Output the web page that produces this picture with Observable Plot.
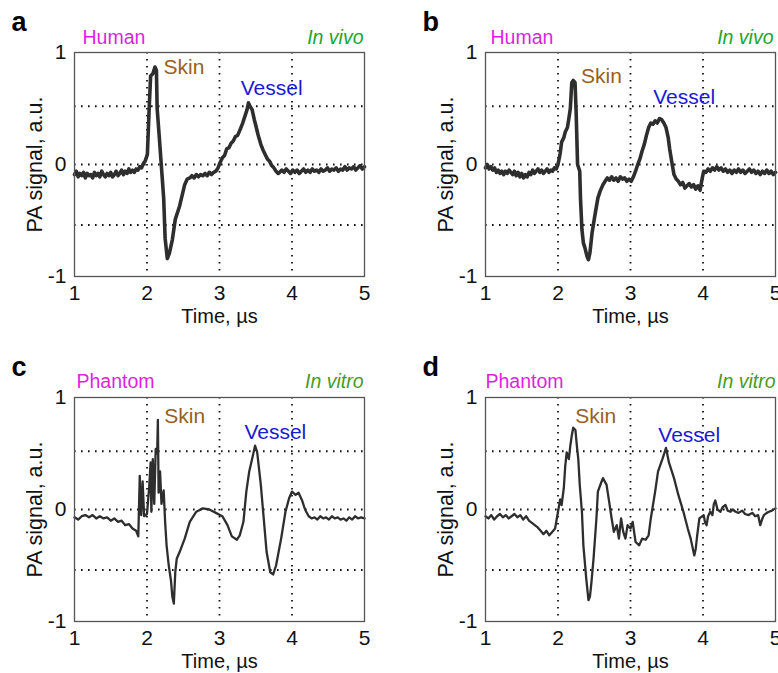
<!DOCTYPE html>
<html>
<head>
<meta charset="utf-8">
<script src="https://cdn.jsdelivr.net/npm/d3@7"></script>
<script src="https://cdn.jsdelivr.net/npm/@observablehq/plot@0.6"></script>
<style>
  html, body { margin: 0; padding: 0; background: white; }
  #wrap { position: relative; width: 778px; height: 673px; overflow: hidden; background: white; }
  .panel { position: absolute; }
</style>
</head>
<body>
<div id="wrap"></div>
<script>
// ---- data ----
const xTicks = [1, 2, 3, 4, 5];
const yTicks = [-1, 0, 1];
const gridX = [2, 3, 4];
const gridY = [0.52, 0, -0.54];

const panelLetters = ["a", "b", "c", "d"];
const subjects = ["Human", "Human", "Phantom", "Phantom"];
const conditions = ["In vivo", "In vivo", "In vitro", "In vitro"];
const featureNames = ["Skin", "Vessel"];

// annotation positions (time, signal) for Skin / Vessel
const skinPos = [[2.51, 0.87], [2.60, 0.79], [2.52, 0.83], [2.52, 0.83]];
const vesselPos = [[3.72, 0.68], [3.74, 0.60], [3.77, 0.69], [3.81, 0.66]];

// Panel a: Human, in vivo
const timeA = [1.000,1.025,1.050,1.075,1.100,1.125,1.150,1.175,1.200,1.225,1.250,1.275,1.300,1.325,1.350,1.375,1.400,1.425,1.450,1.475,1.500,1.525,1.550,1.575,1.600,1.625,1.650,1.675,1.700,1.725,1.750,1.775,1.800,1.825,1.850,1.875,1.900,1.925,1.950,1.975,
  2.005,2.03,2.05,2.08,2.11,2.13,2.14,2.17,2.20,2.23,2.25,2.28,2.31,2.35,2.39,2.45,2.52,
  2.555,2.59,2.62,2.65,2.68,2.71,2.74,2.77,2.80,2.83,2.86,2.89,2.92,2.95,2.98,3.01,3.04,3.07,3.10,3.13,3.16,3.19,3.22,3.25,3.29,3.32,3.35,3.38,3.40,3.42,3.45,3.48,3.50,3.53,3.57,3.60,3.63,3.66,3.69,3.72,3.75,3.78,3.81,3.83,3.86,3.89,3.92,3.95,3.98,4.01,4.04,4.07,4.10,4.13,4.16,4.19,4.22,4.25,4.28,4.31,4.34,4.37,4.40,4.43,4.46,4.49,4.52,4.55,4.58,4.61,4.64,4.67,4.70,4.73,4.76,4.79,4.82,4.85,4.88,4.91,4.94,4.97,5.00];
const signalA = [-0.09,-0.06,-0.11,-0.08,-0.10,-0.07,-0.12,-0.08,-0.10,-0.09,-0.12,-0.07,-0.10,-0.08,-0.11,-0.06,-0.09,-0.11,-0.08,-0.10,-0.07,-0.11,-0.09,-0.06,-0.10,-0.08,-0.05,-0.09,-0.06,-0.08,-0.04,-0.07,-0.05,-0.07,-0.04,-0.05,-0.02,-0.03,0.01,0.03,
  0.09,0.50,0.79,0.81,0.87,0.84,0.50,0.24,-0.03,-0.30,-0.66,-0.84,-0.79,-0.67,-0.49,-0.37,-0.18,
  -0.13,-0.12,-0.10,-0.12,-0.09,-0.11,-0.09,-0.10,-0.08,-0.10,-0.07,-0.09,-0.07,-0.06,-0.03,0.02,0.06,0.08,0.14,0.15,0.19,0.21,0.25,0.26,0.32,0.37,0.43,0.49,0.55,0.52,0.49,0.40,0.35,0.27,0.18,0.13,0.09,0.05,0.03,-0.01,-0.03,-0.06,-0.08,-0.07,-0.05,-0.07,-0.04,-0.06,-0.08,-0.05,-0.07,-0.05,-0.08,-0.06,-0.04,-0.07,-0.05,-0.07,-0.04,-0.06,-0.05,-0.07,-0.04,-0.06,-0.05,-0.03,-0.06,-0.04,-0.05,-0.03,-0.06,-0.04,-0.05,-0.02,-0.05,-0.03,-0.04,-0.02,-0.05,-0.03,-0.01,-0.04,-0.02];

// Panel b: Human, in vivo
const timeB = [1.000,1.025,1.050,1.075,1.100,1.125,1.150,1.175,1.200,1.225,1.250,1.275,1.300,1.325,1.350,1.375,1.400,1.425,1.450,1.475,1.500,1.525,1.550,1.575,1.600,1.625,1.650,1.675,1.700,1.725,1.750,1.775,1.800,1.825,1.850,1.875,1.900,1.925,1.950,1.975,
  2.00,2.03,2.05,2.08,2.10,2.13,2.15,2.17,2.19,2.21,2.235,2.25,2.27,2.30,2.31,2.33,2.35,2.37,2.40,2.42,2.44,2.47,2.51,2.55,
  2.58,2.62,2.65,2.68,2.71,2.74,2.77,2.80,2.83,2.86,2.89,2.92,2.95,2.98,3.01,3.04,3.07,3.10,3.13,3.16,3.19,3.22,3.25,3.28,3.31,3.34,3.37,3.40,3.43,3.46,3.49,3.52,3.54,3.57,3.60,3.63,3.66,3.69,3.72,3.75,3.78,3.81,3.84,3.87,3.90,3.93,3.96,3.99,4.01,4.04,4.07,4.10,4.13,4.16,4.19,4.22,4.25,4.28,4.31,4.34,4.37,4.40,4.43,4.46,4.49,4.52,4.55,4.58,4.61,4.64,4.67,4.70,4.73,4.76,4.79,4.82,4.85,4.88,4.91,4.94,4.97,5.00];
const signalB = [-0.03,0.00,-0.04,-0.02,-0.05,-0.03,-0.07,-0.05,-0.08,-0.06,-0.09,-0.06,-0.08,-0.05,-0.07,-0.09,-0.06,-0.10,-0.07,-0.11,-0.08,-0.12,-0.09,-0.11,-0.07,-0.09,-0.05,-0.08,-0.06,-0.04,-0.07,-0.05,-0.08,-0.06,-0.04,-0.07,-0.05,-0.06,-0.03,-0.04,
  0.00,0.10,0.20,0.24,0.29,0.33,0.41,0.50,0.73,0.75,0.73,0.47,0.00,-0.06,-0.30,-0.58,-0.70,-0.74,-0.82,-0.85,-0.79,-0.61,-0.45,-0.30,
  -0.24,-0.18,-0.15,-0.12,-0.14,-0.11,-0.14,-0.12,-0.15,-0.11,-0.13,-0.12,-0.15,-0.13,-0.15,-0.11,-0.06,0.00,0.05,0.12,0.18,0.26,0.33,0.37,0.36,0.39,0.37,0.41,0.40,0.37,0.33,0.24,0.14,0.02,-0.09,-0.13,-0.15,-0.18,-0.16,-0.21,-0.19,-0.17,-0.20,-0.18,-0.22,-0.19,-0.23,-0.12,-0.06,-0.07,-0.04,-0.06,-0.03,-0.05,-0.02,-0.05,-0.03,-0.06,-0.04,-0.07,-0.05,-0.08,-0.05,-0.07,-0.04,-0.07,-0.05,-0.08,-0.06,-0.04,-0.07,-0.05,-0.08,-0.06,-0.09,-0.06,-0.08,-0.05,-0.08,-0.06,-0.09,-0.07];

// Panel c: Phantom, in vitro
const timeC = [1.00,1.05,1.10,1.15,1.20,1.25,1.30,1.35,1.40,1.45,1.50,1.55,1.60,1.65,1.70,1.75,1.80,1.85,1.88,1.90,1.92,1.94,1.96,2.00,2.03,2.05,2.06,2.08,2.10,2.12,2.14,2.15,2.16,2.18,2.20,2.23,2.25,2.27,2.30,2.33,2.35,2.37,2.39,2.41,2.45,2.52,2.59,2.68,2.77,2.86,2.95,3.04,3.11,3.17,3.24,3.28,3.33,3.37,3.41,3.46,3.49,3.52,3.57,3.61,3.65,3.70,3.74,3.78,3.85,3.91,3.96,4.00,4.05,4.09,4.14,4.18,4.23,4.27,4.31,4.35,4.39,4.43,4.47,4.51,4.55,4.59,4.63,4.67,4.71,4.75,4.79,4.83,4.87,4.91,4.95,5.00];
const signalC = [-0.07,-0.09,-0.06,-0.05,-0.07,-0.05,-0.08,-0.06,-0.08,-0.07,-0.10,-0.08,-0.11,-0.10,-0.14,-0.13,-0.17,-0.19,-0.24,0.30,-0.05,0.25,-0.06,-0.04,0.20,0.42,-0.02,0.45,0.05,0.54,0.50,0.80,0.15,0.34,0.05,0.17,-0.11,-0.32,-0.50,-0.63,-0.78,-0.84,-0.56,-0.44,-0.38,-0.26,-0.11,-0.02,0.01,0.00,-0.03,-0.06,-0.14,-0.24,-0.27,-0.23,-0.11,0.16,0.34,0.48,0.57,0.51,0.22,-0.08,-0.38,-0.56,-0.58,-0.50,-0.26,-0.02,0.10,0.16,0.13,0.15,0.08,0.00,-0.06,-0.08,-0.07,-0.09,-0.06,-0.08,-0.07,-0.09,-0.06,-0.08,-0.07,-0.09,-0.08,-0.10,-0.07,-0.09,-0.06,-0.08,-0.07,-0.08];

// Panel d: Phantom, in vitro
const timeD = [1.00,1.04,1.08,1.12,1.16,1.20,1.24,1.28,1.32,1.36,1.40,1.44,1.48,1.52,1.56,1.60,1.64,1.68,1.72,1.76,1.80,1.84,1.88,1.92,1.96,2.00,2.03,2.05,2.08,2.10,2.12,2.15,2.17,2.19,2.21,2.24,2.26,2.28,2.30,2.33,2.35,2.39,2.42,2.44,2.46,2.49,2.53,2.55,2.59,2.62,2.67,2.71,2.74,2.77,2.81,2.84,2.87,2.90,2.93,2.96,3.00,3.03,3.07,3.12,3.16,3.21,3.25,3.28,3.34,3.38,3.44,3.49,3.53,3.60,3.66,3.73,3.79,3.83,3.88,3.90,3.92,3.95,4.01,4.03,4.05,4.07,4.10,4.13,4.15,4.17,4.20,4.24,4.27,4.31,4.34,4.38,4.41,4.45,4.49,4.54,4.58,4.63,4.68,4.72,4.76,4.79,4.82,4.84,4.88,4.91,4.95,5.00];
const signalD = [-0.06,-0.08,-0.05,-0.09,-0.06,-0.04,-0.07,-0.05,-0.08,-0.06,-0.04,-0.07,-0.05,-0.09,-0.06,-0.10,-0.12,-0.14,-0.16,-0.19,-0.22,-0.19,-0.23,-0.20,-0.17,-0.02,0.09,0.04,0.19,0.39,0.51,0.45,0.57,0.66,0.73,0.71,0.57,0.45,0.22,-0.02,-0.32,-0.62,-0.81,-0.78,-0.66,-0.44,-0.08,0.16,0.23,0.28,0.22,0.05,-0.08,-0.20,-0.14,-0.26,-0.08,-0.20,-0.26,-0.14,-0.17,-0.11,-0.29,-0.32,-0.26,-0.27,-0.23,-0.08,0.16,0.34,0.45,0.55,0.42,0.28,0.13,-0.02,-0.17,-0.26,-0.41,-0.35,-0.23,-0.08,-0.05,-0.12,-0.14,-0.06,-0.02,-0.05,0.05,0.08,0.00,-0.02,0.02,0.04,-0.01,-0.02,0.00,-0.02,-0.03,-0.01,-0.04,-0.05,-0.03,-0.06,-0.05,-0.14,-0.08,-0.05,-0.03,-0.02,-0.01,0.01];

const times = [timeA, timeB, timeC, timeD];
const signals = [signalA, signalB, signalC, signalD];

// ---- layout / style ----
const FONT = "'Liberation Sans', Arial, Helvetica, sans-serif";
const layout = [
  {left: 0, top: 0, sw: 3.6, titleDx: 8, condDx: -1, titleDy: -15},
  {left: 411, top: 0, sw: 3.6, titleDx: 5, condDx: -2, titleDy: -15},
  {left: 0, top: 345, sw: 2.3, titleDx: 2, condDx: -1, titleDy: -16},
  {left: 411, top: 345, sw: 2.3, titleDx: 0, condDx: 0, titleDy: -16}
];

const wrap = document.getElementById("wrap");

for (let i = 0; i < 4; i++) {
  const L = layout[i];
  const data = times[i].map((t, k) => ({t, v: signals[i][k]}));
  const ann = [
    {name: featureNames[0], t: skinPos[i][0], v: skinPos[i][1], color: "#9a5e1e"},
    {name: featureNames[1], t: vesselPos[i][0], v: vesselPos[i][1], color: "#1a1ad2"}
  ];
  const dotted = {stroke: "#111", strokeWidth: 1.8, strokeDasharray: "1.6,5.4"};
  const chart = Plot.plot({
    width: 389,
    height: 326,
    marginTop: 52,
    marginBottom: 50,
    marginLeft: 74,
    marginRight: 25,
    x: {domain: [1, 5]},
    y: {domain: [-1, 1]},
    style: {fontFamily: FONT, fontSize: "21px", color: "#111", background: "white", overflow: "visible"},
    marks: [
      Plot.ruleX(gridX, dotted),
      Plot.ruleY(gridY, dotted),
      Plot.line(data, {x: "t", y: "v", stroke: "#2e2e2e", strokeWidth: L.sw, strokeLinejoin: "round"}),
      Plot.frame({stroke: "#555", strokeWidth: 1.3}),
      Plot.axisX({ticks: xTicks, tickSize: 0, tickPadding: 9, label: null, tickFormat: d => String(d)}),
      Plot.axisY({ticks: yTicks, tickSize: 0, tickPadding: 8, label: null, tickFormat: d => String(d)}),
      Plot.text(ann, {x: "t", y: "v", text: "name", fill: "color", fontSize: 21, textAnchor: "middle", lineAnchor: "middle"}),
      Plot.text([panelLetters[i]], {frameAnchor: "top-left", dx: -63, dy: -30, fontSize: 27, fontWeight: "bold", textAnchor: "start", lineAnchor: "middle", fill: "#000"}),
      Plot.text([subjects[i]], {frameAnchor: "top-left", dx: L.titleDx, dy: L.titleDy, fontSize: 19.5, textAnchor: "start", lineAnchor: "middle", fill: "#e01fe0"}),
      Plot.text([conditions[i]], {frameAnchor: "top-right", dx: L.condDx, dy: L.titleDy, fontSize: 19.5, fontStyle: "italic", textAnchor: "end", lineAnchor: "middle", fill: i < 2 ? "#22a52a" : "#4a9a1e"}),
      Plot.text(["PA signal, a.u."], {frameAnchor: "left", dx: -39, rotate: -90, fontSize: 21.5, textAnchor: "middle", lineAnchor: "middle", fill: "#111"}),
      Plot.text(["Time, µs"], {frameAnchor: "bottom", dy: 40, fontSize: 20, textAnchor: "middle", lineAnchor: "middle", fill: "#111"})
    ]
  });
  chart.classList.add("panel");
  chart.style.left = L.left + "px";
  chart.style.top = L.top + "px";
  wrap.appendChild(chart);
}
</script>
</body>
</html>
